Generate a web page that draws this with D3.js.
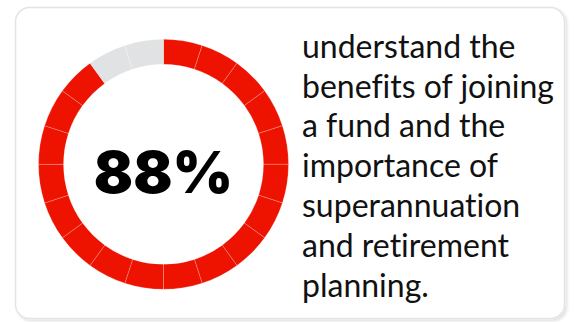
<!DOCTYPE html>
<html>
<head>
<meta charset="utf-8">
<script src="https://cdn.jsdelivr.net/npm/d3@7"></script>
<style>
  html, body { margin: 0; padding: 0; background: #ffffff; }
  svg { display: block; }
  text { font-variant-ligatures: none; }
</style>
</head>
<body>
<svg id="chart" width="574" height="322"></svg>
<script>
// Share of respondents who understand the benefits
const percentValue = 88;
const segmentCount = 20;
const statement = [
  "understand the",
  "benefits of joining",
  "a fund and the",
  "importance of",
  "superannuation",
  "and retirement",
  "planning."
];
const colours = { filled: "#ee1300", empty: "#e1e2e4" };

const svg = d3.select("#chart");

// card with soft shadow
const defs = svg.append("defs");
const f = defs.append("filter").attr("id", "shadow")
  .attr("x", "-5%").attr("y", "-5%").attr("width", "110%").attr("height", "115%");
f.append("feDropShadow").attr("dx", 2).attr("dy", 2).attr("stdDeviation", 1.5)
  .attr("flood-color", "#000").attr("flood-opacity", 0.12);

svg.append("rect")
  .attr("x", 15.5).attr("y", 7.5).attr("width", 549).attr("height", 311)
  .attr("rx", 14).attr("ry", 14)
  .attr("fill", "#ffffff").attr("stroke", "#e4e4e4").attr("stroke-width", 1.5)
  .attr("filter", "url(#shadow)");

// segmented donut
const cx = 163.5, cy = 164.3;
const segments = d3.range(segmentCount).map(i => ({
  i,
  value: 1,
  filled: i < Math.round(percentValue / 100 * segmentCount)
}));
const pie = d3.pie().value(d => d.value).sort(null);
const arc = d3.arc().innerRadius(100).outerRadius(125);

const g = svg.append("g").attr("transform", `translate(${cx},${cy})`);
g.selectAll("path")
  .data(pie(segments))
  .join("path")
  .attr("d", arc)
  .attr("fill", d => d.data.filled ? colours.filled : colours.empty)
  .attr("stroke", "rgba(255,255,255,0.35)")
  .attr("stroke-width", 0.6);

// percentage label
g.append("text")
  .attr("x", 0).attr("y", 29)
  .attr("text-anchor", "middle")
  .attr("font-family", "Inter, Roboto, sans-serif")
  .attr("font-weight", 900)
  .attr("font-size", 58)
  .attr("letter-spacing", 0)
  .attr("fill", "#000")
  .text(percentValue + "%");

// statement text
const tx = 302, firstBase = 57.7, lineGap = 39.8;
const t = svg.append("g");
statement.forEach((line, k) => {
  t.append("text")
    .attr("x", tx).attr("y", firstBase + k * lineGap)
    .attr("font-family", "Lato, 'Open Sans', sans-serif")
    .attr("font-size", 32)
    .attr("fill", "#111")
    .text(line);
});
</script>
</body>
</html>
